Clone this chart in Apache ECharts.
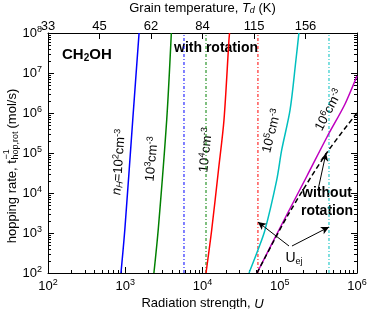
<!DOCTYPE html>
<html><head><meta charset="utf-8">
<script src="https://cdn.jsdelivr.net/npm/echarts@6/dist/echarts.min.js"></script>
<style>html,body{margin:0;padding:0;background:#fff}#c{width:373px;height:309px}</style>
</head><body><div id="c"></div>
<script>
// ---- data ----
const xDecades = [2, 3, 4, 5, 6];                 // log10 U
const yDecades = [2, 3, 4, 5, 6, 7, 8];           // log10 rate
const tempLabels = ['33', '45', '62', '84', '115', '156'];   // grain temperature tick labels
const densityLabels = ['2', '3', '4', '5', '6'];  // n_H = 10^k cm^-3

// with rotation curves: [U, rate]
const curveN2 = [[880, 1e2], [990, 1.3e3], [1250, 6.7e5], [1510, 1e8]];
const curveN3 = [[2350, 1e2], [2680, 1.3e3], [3440, 6.7e5], [3950, 1e8]];
const curveN4 = [[11100, 1e2], [13150, 1.19e3], [16100, 3.76e4], [18970, 6.7e5], [22000, 6.7e7], [22400, 1e8]];
const curveN5 = [[40000, 1e2], [52200, 376], [64400, 1.19e3], [91300, 2.11e4], [1.06e5, 1.19e5], [1.36e5, 1.19e6], [1.62e5, 2.11e7], [1.77e5, 1e8]];
const curveN6 = [[50800, 1e2], [1.07e5, 1680], [2.25e5, 2.66e4], [4.09e5, 2.51e5], [7.0e5, 1.68e6], [1e6, 8.4e6]];
// without rotation
const curveNoRot = [[50800, 1e2], [1.28e5, 2.82e3], [4.05e5, 1e5], [1e6, 1e6]];
// ejection thresholds U_ej for n_H = 1e2, 1e3, 1e4, 1e5
const uEj = [5760, 11100, 52200, 434000];

const colors = ['#0000ff', '#008000', '#ff0000', '#00bfbf', '#bf00bf'];
const FONT = 'Liberation Sans, Arial, Helvetica, sans-serif';

const majorX = xDecades.map(e => Math.pow(10, e));
const majorY = yDecades.map(e => Math.pow(10, e));
function minors(decs) {
  const out = [];
  for (let i = 0; i < decs.length - 1; i++) for (let k = 2; k <= 9; k++) out.push(k * Math.pow(10, decs[i]));
  return out;
}
const minorX = minors(xDecades), minorY = minors(yDecades);
const tempPos = tempLabels.map((t, i) => Math.pow(10, 2 + i * 2 / 3));

const supRich = { e: { fontSize: 9, fontFamily: FONT, color: '#000', padding: [0, 0, 7, 0] } };
const powFmt = v => '10{e|' + Math.round(Math.log10(v)) + '}';

function logAxis(extra) {
  return Object.assign({
    type: 'log', logBase: 10, splitLine: { show: false },
    axisLine: { show: true, lineStyle: { color: '#000', width: 1 } },
  }, extra);
}

const xAxis = [
  logAxis({ position: 'bottom', min: 1e2, max: 1e6,
    axisTick: { inside: true, length: 6, customValues: majorX, lineStyle: { color: '#000' } },
    axisLabel: { customValues: majorX, formatter: powFmt, rich: supRich, color: '#000', fontSize: 13, fontFamily: FONT, margin: 5 },
    name: 'Radiation strength, {i|U}', nameLocation: 'middle', nameGap: 18,
    nameTextStyle: { fontSize: 13, fontFamily: FONT, color: '#000', rich: { i: { fontStyle: 'italic', fontSize: 13, fontFamily: FONT } } } }),
  logAxis({ position: 'bottom', min: 1e2, max: 1e6, axisLine: { show: false },
    axisTick: { inside: true, length: 3, customValues: minorX, lineStyle: { color: '#000' } },
    axisLabel: { show: false } }),
  logAxis({ position: 'top', min: 1e2, max: 1e6,
    axisTick: { inside: true, length: 6, customValues: tempPos, lineStyle: { color: '#000' } },
    axisLabel: { customValues: tempPos, color: '#000', fontSize: 13, fontFamily: FONT, margin: 0,
      formatter: v => tempLabels[Math.round((Math.log10(v) - 2) * 1.5)] },
    name: 'Grain temperature, {i|T}{s|d} (K)', nameLocation: 'middle', nameGap: 15,
    nameTextStyle: { fontSize: 13, fontFamily: FONT, color: '#000',
      rich: { i: { fontStyle: 'italic', fontSize: 13, fontFamily: FONT }, s: { fontStyle: 'italic', fontSize: 9, fontFamily: FONT, padding: [4, 0, 0, 0] } } } })
];

const yAxis = [
  logAxis({ position: 'left', min: 1e2, max: 1e8,
    axisTick: { inside: true, length: 6, customValues: majorY, lineStyle: { color: '#000' } },
    axisLabel: { customValues: majorY, formatter: powFmt, rich: supRich, color: '#000', fontSize: 13, fontFamily: FONT, margin: 6 } }),
  logAxis({ position: 'left', min: 1e2, max: 1e8, axisLine: { show: false },
    axisTick: { inside: true, length: 3, customValues: minorY, lineStyle: { color: '#000' } }, axisLabel: { show: false } }),
  logAxis({ position: 'right', min: 1e2, max: 1e8,
    axisTick: { inside: true, length: 6, customValues: majorY, lineStyle: { color: '#000' } }, axisLabel: { show: false } }),
  logAxis({ position: 'right', min: 1e2, max: 1e8, axisLine: { show: false },
    axisTick: { inside: true, length: 3, customValues: minorY, lineStyle: { color: '#000' } }, axisLabel: { show: false } })
];

const curves = [curveN2, curveN3, curveN4, curveN5, curveN6];
const series = curves.map((d, i) => ({
  type: 'line', name: '1e' + densityLabels[i], data: d, showSymbol: false, smooth: 0.3, clip: true,
  lineStyle: { color: colors[i], width: 1.5 }, silent: true, z: 3
}));
uEj.forEach((u, i) => series.push({
  type: 'line', data: [[u, 1e2], [u, 1e8]], showSymbol: false, silent: true, z: 2,
  lineStyle: { color: colors[i], width: 1, type: [3, 2, 1, 2] }
}));
series.push({
  type: 'line', name: 'no rotation', data: curveNoRot, showSymbol: false, smooth: 0.3, silent: true, z: 4,
  lineStyle: { color: '#000', width: 1.5, type: [5, 3] },
  markLine: {
    silent: true, symbol: ['none', 'arrow'], symbolSize: [6, 8], label: { show: false },
    lineStyle: { color: '#000', width: 1, type: 'solid' },
    data: [
      [{ coord: [1.318e5, 473] }, { coord: [uEj[2], 1884] }],
      [{ coord: [1.44e5, 473] }, { coord: [uEj[3], 1413] }],
      [{ coord: [3.13e5, 1.19e4] }, { coord: [3.97e5, 1e5] }]
    ]
  }
});

const chart = echarts.init(document.getElementById('c'), null, { renderer: 'canvas' });

// text measuring for the stacked y-axis title
const mctx = document.createElement('canvas').getContext('2d');
function tw(str, size) { mctx.font = size + 'px ' + FONT; return mctx.measureText(str).width; }
const yA = 'hopping rate, t', ySup = '−1', ySub = 'hop,rot', yB = ' (mol/s)';
const wA = tw(yA, 13), wS = Math.max(tw(ySup, 9), tw(ySub, 9)), wB = tw(yB, 13);
const x0 = -(wA + wS + wB) / 2;
function part(x, y, text, size) {
  return { type: 'text', x: x, y: y, silent: true,
    style: { text: text, fontSize: size, fontFamily: FONT, fill: '#000', align: 'left', verticalAlign: 'middle' } };
}
const yTitle = { type: 'group', x: 12, y: 166, rotation: Math.PI / 2, silent: true, children: [
  part(x0, 0, yA, 13),
  part(x0 + wA + 0.5, -5, ySup, 9),
  part(x0 + wA + 0.5, 4, ySub, 9),
  part(x0 + wA + wS, 0, yB, 13)
] };

const labRich = {
  i: { fontStyle: 'italic', fontSize: 13, fontFamily: FONT },
  is: { fontStyle: 'italic', fontSize: 9, fontFamily: FONT, padding: [5, 0, 0, 0] },
  e: { fontSize: 9, fontFamily: FONT, padding: [0, 0, 7, 0] }
};
function rotText(x, y, deg, text) {
  return { type: 'text', x: x, y: y, rotation: deg * Math.PI / 180, silent: true,
    style: { text: text, rich: labRich, fontSize: 13, fontFamily: FONT, fill: '#000', align: 'center', verticalAlign: 'middle' } };
}
const graphic = [
  yTitle,
  rotText(119, 162, 86, '{i|n}{is|H}=10{e|' + densityLabels[0] + '}cm{e|-3}'),
  rotText(152, 159, 85, '10{e|' + densityLabels[1] + '}cm{e|-3}'),
  rotText(206, 150, 84, '10{e|' + densityLabels[2] + '}cm{e|-3}'),
  rotText(272, 131, 76, '10{e|' + densityLabels[3] + '}cm{e|-3}'),
  rotText(329, 110, 62, '10{e|' + densityLabels[4] + '}cm{e|-3}'),
  { type: 'text', x: 62, y: 55, silent: true,
    style: { text: 'CH{s|2}OH', rich: { s: { fontSize: 10, fontWeight: 'bold', fontFamily: FONT, padding: [6, 0, 0, 0] } },
      fontSize: 15, fontWeight: 'bold', fontFamily: FONT, fill: '#000', verticalAlign: 'middle' } },
  { type: 'text', x: 216, y: 48, silent: true,
    style: { text: 'with rotation', fontSize: 14, fontWeight: 'bold', fontFamily: FONT, fill: '#000', align: 'center', verticalAlign: 'middle' } },
  { type: 'text', x: 327, y: 202, silent: true,
    style: { text: 'without\nrotation', lineHeight: 18, fontSize: 14, fontWeight: 'bold', fontFamily: FONT, fill: '#000', align: 'center', verticalAlign: 'middle' } },
  { type: 'text', x: 294, y: 258, silent: true,
    style: { text: 'U{s|ej}', rich: { s: { fontSize: 9, fontFamily: FONT, padding: [7, 0, 0, 0] } }, fontSize: 14, fontFamily: FONT, fill: '#000', align: 'center', verticalAlign: 'middle' } }
];

chart.setOption({
  animation: false,
  backgroundColor: '#fff',
  grid: { left: 48, right: 16, top: 33, bottom: 36, containLabel: false, outerBoundsMode: 'none' },
  xAxis: xAxis,
  yAxis: yAxis,
  series: series,
  graphic: graphic
});
</script>
</body></html>
